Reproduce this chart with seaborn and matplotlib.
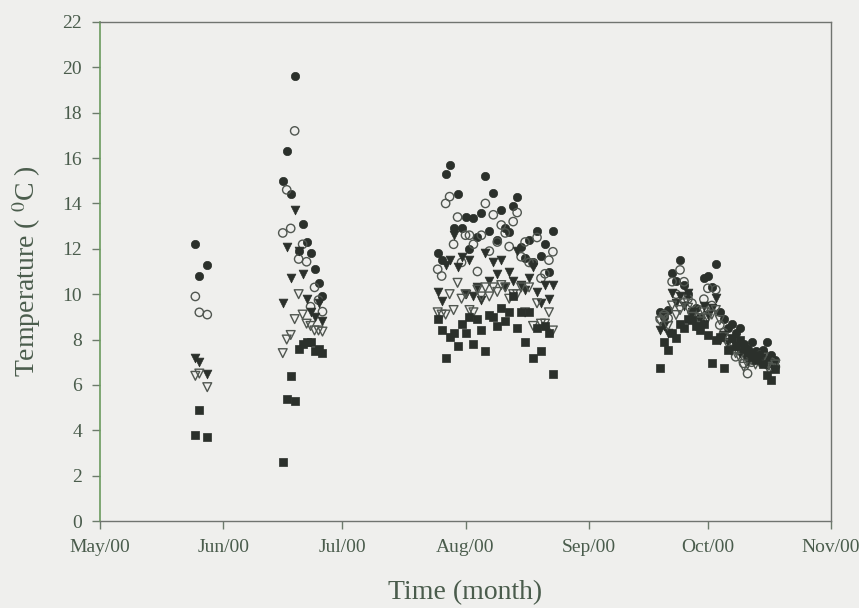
import numpy as np
import pandas as pd
import seaborn as sns
import matplotlib.pyplot as plt
import matplotlib.dates as mdates

# sampling days (four field campaigns)
dates_may = ["2000-05-25", "2000-05-26", "2000-05-28"]
dates_jun = [f"2000-06-{d}" for d in range(16, 27)]
dates_aug = list(pd.date_range("2000-07-25", periods=30).strftime("%Y-%m-%d"))
dates_oct = list(pd.date_range("2000-09-19", periods=30).strftime("%Y-%m-%d"))

# temperature (deg C), one list per sensor, per campaign
filled_circle = (
    [12.2, 10.8, 11.3]
    + [15.0, 16.3, 14.4, 19.6, 11.9, 13.1, 12.3, 11.8, 11.1, 10.5, 9.9]
    + [11.8, 11.5, 15.3, 15.7, 12.9, 14.4, 12.9, 13.4, 12.0, 13.35, 12.5, 13.6, 15.2, 12.8, 14.45,
       12.4, 13.7, 12.9, 12.75, 13.9, 14.3, 12.1, 11.6, 12.4, 11.4, 12.8, 11.7, 12.2, 11.0, 12.8]
    + [9.2, 9.0, 9.3, 10.95, 10.6, 11.5, 10.4, 10.0, 9.2, 9.4, 9.0, 10.7, 10.8, 10.3, 11.33,
       9.2, 8.9, 8.5, 8.7, 8.3, 8.5, 7.8, 7.6, 7.9, 7.5, 7.4, 7.54, 7.9, 7.3, 7.1]
)
open_circle = (
    [9.9, 9.2, 9.1]
    + [12.7, 14.6, 12.9, 17.2, 11.55, 12.2, 11.43, 9.45, 10.3, 9.74, 9.23]
    + [11.1, 10.8, 14.0, 14.3, 12.2, 13.4, 11.4, 12.6, 12.6, 12.2, 11.0, 12.6, 14.0, 11.9, 13.5,
       12.3, 13.05, 12.7, 12.1, 13.2, 13.6, 11.65, 12.3, 11.4, 11.36, 12.5, 10.7, 10.9, 11.5, 11.87]
    + [8.9, 9.1, 8.94, 10.55, 10.0, 11.07, 10.55, 9.8, 9.6, 9.0, 9.3, 9.78, 10.26, 9.5, 10.2,
       8.64, 8.3, 8.0, 7.7, 7.24, 7.5, 6.95, 6.5, 7.0, 7.2, 7.3, 7.1, 6.9, 7.0, 6.8]
)
filled_tri = (
    [7.2, 7.0, 6.5]
    + [9.6, 12.1, 10.7, 13.7, 11.9, 10.9, 9.8, 9.2, 9.0, 9.6, 8.8]
    + [10.1, 9.7, 11.3, 11.5, 12.6, 11.2, 11.65, 10.0, 11.5, 9.9, 10.3, 9.75, 11.8, 10.6, 11.4,
       10.9, 11.5, 10.3, 11.0, 10.6, 11.9, 10.4, 10.2, 10.7, 11.2, 10.1, 9.6, 10.4, 9.8, 10.4]
    + [8.42, 8.6, 8.28, 10.04, 9.6, 9.9, 9.5, 10.04, 9.2, 8.8, 8.7, 9.5, 9.1, 9.4, 9.82,
       7.98, 8.2, 7.9, 7.6, 7.7, 7.4, 7.3, 7.0, 7.4, 7.2, 7.0, 7.3, 7.1, 6.9, 6.9]
)
open_tri = (
    [6.4, 6.5, 5.9]
    + [7.4, 8.0, 8.2, 8.9, 10.0, 9.1, 8.7, 8.6, 8.4, 8.4, 8.35]
    + [9.2, 9.1, 9.1, 10.0, 9.3, 10.5, 9.8, 10.0, 9.3, 9.2, 10.2, 9.9, 10.3, 9.9, 10.3,
       10.1, 10.4, 10.3, 9.8, 10.0, 10.0, 10.3, 9.2, 10.3, 8.6, 9.6, 8.7, 8.7, 9.2, 8.4]
    + [8.8, 9.0, 8.6, 9.5, 9.08, 9.3, 9.6, 9.4, 9.0, 8.6, 8.8, 9.2, 8.94, 9.1, 9.3,
       8.86, 8.1, 7.8, 7.5, 7.4, 7.2, 6.8, 6.9, 7.1, 6.9, 7.0, 7.2, 6.8, 6.73, 6.9]
)
filled_square = (
    [3.8, 4.9, 3.7]
    + [2.6, 5.4, 6.4, 5.3, 7.6, 7.8, 7.9, 7.9, 7.5, 7.6, 7.4]
    + [8.9, 8.4, 7.2, 8.1, 8.3, 7.7, 8.7, 8.3, 9.0, 7.8, 8.9, 8.4, 7.5, 9.1, 9.0,
       8.6, 9.4, 8.8, 9.2, 9.9, 8.5, 9.2, 7.9, 9.2, 7.2, 8.5, 7.5, 8.6, 8.3, 6.5]
    + [6.73, 7.9, 7.54, 8.3, 8.06, 8.7, 8.5, 8.9, 8.86, 8.6, 8.42, 8.7, 8.2, 6.95, 8.0,
       8.1, 6.73, 7.54, 8.06, 7.7, 7.98, 7.6, 7.4, 7.24, 7.1, 7.3, 6.9, 6.44, 6.2, 6.7]
)

dates = pd.to_datetime(dates_may + dates_jun + dates_aug + dates_oct)

df = pd.DataFrame({
    "date": dates,
    "fc": filled_circle,
    "oc": open_circle,
    "ft": filled_tri,
    "ot": open_tri,
    "sq": filled_square,
})

bg = "#efefed"
ink = "#2b302b"
text_col = "#4a5c4c"

sns.set_style("ticks")
plt.rcParams["font.family"] = ["Liberation Serif", "DejaVu Serif"]
plt.rcParams["mathtext.fontset"] = "stix"

fig = plt.figure(figsize=(8.59, 6.08), dpi=100, facecolor=bg)
ax = fig.add_axes([100 / 859, 1 - 521 / 608, 731 / 859, 499 / 608])
ax.set_facecolor(bg)

styles = [
    ("fc", "o", 36, dict(color=ink, edgecolor=ink, linewidth=0.5)),
    ("oc", "o", 36, dict(facecolor="none", edgecolor="#505650", linewidth=1.0)),
    ("ft", "v", 40, dict(color=ink, edgecolor=ink, linewidth=0.5)),
    ("ot", "v", 40, dict(facecolor="none", edgecolor="#505650", linewidth=1.0)),
    ("sq", "s", 32, dict(color=ink, edgecolor=ink, linewidth=0.5)),
]
for col, mk, size, kw in styles:
    sns.scatterplot(data=df, x="date", y=col, marker=mk, s=size, ax=ax, zorder=3, **kw)

ax.set_xlim(pd.Timestamp("2000-05-01"), pd.Timestamp("2000-11-01"))
ax.xaxis.set_major_locator(mdates.MonthLocator())
ax.xaxis.set_major_formatter(mdates.DateFormatter("%b/%y"))
ax.set_ylim(0, 22)
ax.set_yticks(range(0, 23, 2))

for side in ["top", "right", "bottom"]:
    ax.spines[side].set_color("#707470")
    ax.spines[side].set_linewidth(1.0)
ax.spines["left"].set_color("#6a9a5e")
ax.spines["left"].set_linewidth(1.2)

ax.tick_params(axis="both", direction="out", length=6, width=1.0, color="#6c7a6c",
               labelsize=14, labelcolor=text_col)
ax.tick_params(axis="x", pad=7)
ax.tick_params(axis="y", pad=7)

ax.set_xlabel("Time (month)", fontsize=20, color=text_col, labelpad=17)
ax.set_ylabel("Temperature ( $^{\\rm 0}$C )", fontsize=20, color=text_col, labelpad=14)

plt.savefig("out.png", dpi=100, facecolor=bg)
